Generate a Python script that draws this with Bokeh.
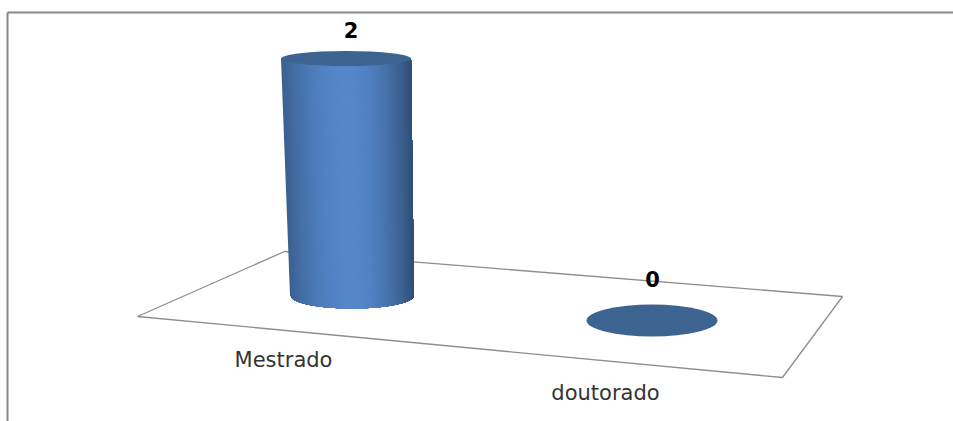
import numpy as np
from bokeh.core.properties import value
from bokeh.embed import file_html
from bokeh.models import Range1d
from bokeh.plotting import figure
from bokeh.resources import INLINE

categories = ["Mestrado", "doutorado"]
counts = [2, 0]

WIDTH, HEIGHT = 953, 421
# Pixel anchors of the value scale and category scale
PX_PER_UNIT_Y = 116.5
BASE_Y = 291.0
PX_PER_CAT = 304.0
FIRST_CAT_X = 348.0


def px_x(x):
    return (np.asarray(x, dtype=float) - FIRST_CAT_X) / PX_PER_CAT


def px_y(y):
    return (BASE_Y - np.asarray(y, dtype=float)) / PX_PER_UNIT_Y


p = figure(
    width=WIDTH, height=HEIGHT, output_backend="svg", toolbar_location=None,
    x_range=Range1d(float(px_x(0)), float(px_x(WIDTH))),
    y_range=Range1d(float(px_y(HEIGHT)), float(px_y(0))),
    min_border=0, outline_line_color=None,
)
p.axis.visible = False
p.grid.visible = False
p.background_fill_color = "white"
p.border_fill_color = "white"

# Chart frame: top and left edges only
frame = "#878787"
p.line(px_x([7, 7]), px_y([421, 12]), line_color=frame, line_width=2)
p.line(px_x([7, 953]), px_y([12, 12]), line_color=frame, line_width=2)

# Perspective floor
floor_x = [137, 284, 842, 782, 137]
floor_y = [316, 251, 296, 377, 316]
p.line(px_x(floor_x), px_y(floor_y), line_color="#8e8e8e", line_width=1.3)


def shade(t):
    """Cylinder colour across its width, t from -1 (left) to 1 (right)."""
    edge_l = np.array([0x3a, 0x60, 0x90])
    edge_r = np.array([0x2f, 0x4e, 0x76])
    mid = np.array([0x55, 0x87, 0xca])
    edge = edge_r if t > 0 else edge_l
    c = mid + (edge - mid) * abs(t) ** 1.9
    return "#%02x%02x%02x" % tuple(int(round(v)) for v in c)


CAP_RX, CAP_RY = 65.0 / PX_PER_CAT, 7.5 / PX_PER_UNIT_Y
FOOT_RX, FOOT_RY = 62.0 / PX_PER_CAT, 13.0 / PX_PER_UNIT_Y
TOP_SHIFT = -2.5 / PX_PER_CAT
FOOT_SHIFT = 3.5 / PX_PER_CAT
FOOT_DROP = 4.0 / PX_PER_UNIT_Y
ZERO_RX, ZERO_RY = 65.5 / PX_PER_CAT, 16.0 / PX_PER_UNIT_Y
CAP_COLOR = "#3d6491"
ZERO_DROP = 29.0 / PX_PER_UNIT_Y

for i, (cat, v) in enumerate(zip(categories, counts)):
    if v > 0:
        # Side of the cylinder: each strip runs to the right edge and the next
        # one paints over it, which leaves no seams between strips
        n = 130
        edges = np.linspace(-1, 1, n + 1)
        for a in edges[:-1]:
            ts = np.linspace(a, 1, 40)
            foot_x = i + FOOT_SHIFT + ts * FOOT_RX
            foot_y = -FOOT_DROP - FOOT_RY * np.sqrt(np.clip(1 - ts ** 2, 0, 1))
            xs = list(foot_x) + [i + TOP_SHIFT + CAP_RX, i + TOP_SHIFT + a * CAP_RX]
            ys = list(foot_y) + [v, v]
            p.patch(xs, ys, fill_color=shade(a + 1 / n), line_color=None)
        p.ellipse([i + TOP_SHIFT], [v], width=2 * CAP_RX * PX_PER_CAT,
                  height=2 * CAP_RY * PX_PER_UNIT_Y, width_units="screen",
                  height_units="screen", fill_color=CAP_COLOR, line_color=None)
        label_off = -29
    else:
        # A zero count collapses to a flat disc on the floor
        p.ellipse([i - 0.5 / PX_PER_CAT], [v - ZERO_DROP], width=2 * ZERO_RX * PX_PER_CAT,
                  height=2 * ZERO_RY * PX_PER_UNIT_Y, width_units="screen",
                  height_units="screen", fill_color=CAP_COLOR, line_color=None)
        label_off = -13
    p.text([i + (2.5 if v else 0) / PX_PER_CAT], [v], text=[str(v)],
           text_font=value("DejaVu Sans"), text_font_style="bold",
           text_font_size="21px", text_color="black", text_align="center",
           text_baseline="middle", y_offset=label_off)

# Category labels sit in front of the floor, following its slope
label_dx = [-65, -47]
label_y = [359, 392]
for i, (cat, dx, ly) in enumerate(zip(categories, label_dx, label_y)):
    p.text([i + dx / PX_PER_CAT], [px_y(ly)], text=[cat],
           text_font=value("DejaVu Sans"), text_font_size="21px",
           text_color="#333333", text_align="center", text_baseline="middle")

open("out.html", "w").write(file_html(p, INLINE))
